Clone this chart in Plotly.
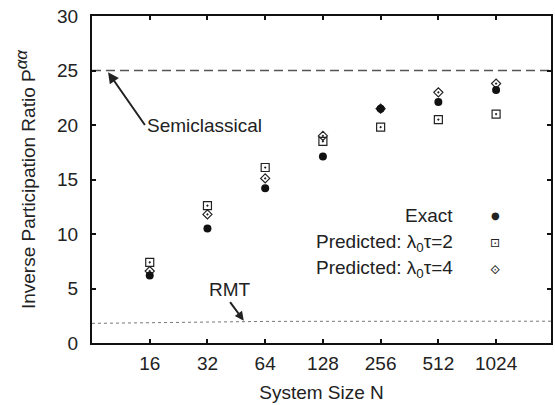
import math
import plotly.graph_objects as go

# ---- data ----
system_size = [16, 32, 64, 128, 256, 512, 1024]
tick_labels = ["16", "32", "64", "128", "256", "512", "1024"]
exact = [6.2, 10.5, 14.2, 17.1, 21.5, 22.1, 23.2]
pred_tau2 = [7.4, 12.6, 16.1, 18.5, 19.8, 20.5, 21.0]
pred_tau4 = [6.6, 11.8, 15.1, 19.0, 21.5, 23.0, 23.8]
semiclassical_value = 25
rmt_n = [8, 16, 32, 64, 128, 256, 512, 1024, 1980]
rmt_p = [1.8, 1.88, 1.94, 1.98, 1.99, 2.0, 2.0, 2.0, 2.0]
x_range = [8, 1980]
y_range = [0, 30]

FONT = "Liberation Sans, Arial, Helvetica, sans-serif"
TXT = "#222222"
L = math.log10

fig = go.Figure()

fig.add_trace(go.Scatter(x=rmt_n, y=rmt_p, mode="lines",
                         line=dict(color="#777777", width=1, dash="dot"),
                         showlegend=False, hoverinfo="skip"))
fig.add_trace(go.Scatter(x=x_range, y=[semiclassical_value] * 2, mode="lines",
                         line=dict(color="#555555", width=1.5, dash="9px,5px"),
                         showlegend=False, hoverinfo="skip"))

fig.add_trace(go.Scatter(x=system_size, y=pred_tau2, mode="markers",
                         marker=dict(symbol="square-open-dot", size=8, color="#222222",
                                     line=dict(width=1.2)), showlegend=False))
fig.add_trace(go.Scatter(x=system_size, y=pred_tau4, mode="markers",
                         marker=dict(symbol="diamond-open-dot", size=7, color="#222222",
                                     line=dict(width=1.2)), showlegend=False))
fig.add_trace(go.Scatter(x=system_size, y=exact, mode="markers",
                         marker=dict(symbol="circle", size=8, color="#111111",
                                     line=dict(width=0)), showlegend=False))

ann = []
# Semiclassical label with arrow (tail at left edge of the label)
ann.append(dict(x=L(9.7), y=24.85, ax=L(15.1), ay=20.0, axref="x", ayref="y",
                text="Semiclassical", showarrow=True, arrowhead=2, arrowsize=1.1,
                arrowwidth=2, arrowcolor="#222222",
                xanchor="left", yanchor="middle", font=dict(size=19, color=TXT)))
# RMT label with arrow
ann.append(dict(x=L(49.5), y=2.05, ax=L(42.0), ay=3.75, axref="x", ayref="y",
                text="RMT", showarrow=True, arrowhead=2, arrowsize=0.9, arrowwidth=2,
                arrowcolor="#222222",
                xanchor="center", yanchor="bottom", font=dict(size=19, color=TXT)))

# key (text right-aligned, symbol to the right)
key_text = ["Exact", "Predicted: λ<sub>0</sub>τ=2", "Predicted: λ<sub>0</sub>τ=4"]
key_glyph = ["●", "⊡", "⟐"]
key_glyph_size = [10, 12, 12]
key_y = [0.3895, 0.307, 0.226]
for t, g, sz, yy in zip(key_text, key_glyph, key_glyph_size, key_y):
    ann.append(dict(xref="paper", yref="paper", x=0.791, y=yy, text=t,
                    showarrow=False, xanchor="right", yanchor="middle",
                    font=dict(size=19, color=TXT)))
    ann.append(dict(xref="paper", yref="paper", x=0.878, y=yy, text=g,
                    showarrow=False, xanchor="center", yanchor="middle",
                    font=dict(size=sz, color="#222222",
                              family="DejaVu Sans, Noto Sans Math, DejaVu Sans Mono")))

fig.update_layout(
    width=555, height=405,
    margin=dict(l=92, r=2, t=16, b=62),
    paper_bgcolor="white", plot_bgcolor="white",
    font=dict(family=FONT, size=19, color=TXT),
    annotations=ann,
    showlegend=False,
)
fig.update_xaxes(type="log", range=[L(x_range[0]), L(x_range[1])],
                 tickvals=system_size, ticktext=tick_labels,
                 ticks="inside", ticklen=4, tickwidth=2, tickcolor="#111111",
                 showline=True, linewidth=2, linecolor="#111111", mirror="ticks",
                 showgrid=False, zeroline=False, ticklabelstandoff=2,
                 title=dict(text="System Size N", standoff=13,
                            font=dict(size=19, color=TXT)))
fig.update_yaxes(range=y_range, dtick=5, tick0=0,
                 ticks="inside", ticklen=4, tickwidth=2, tickcolor="#111111",
                 showline=True, linewidth=2, linecolor="#111111", mirror="ticks",
                 showgrid=False, zeroline=False, ticklabelstandoff=8,
                 title=dict(text="Inverse Participation Ratio P<sup><span style='font-size:17px'><i>αα</i></span></sup>",
                            standoff=16, font=dict(size=19, color=TXT)))

fig.write_html("out.html")
